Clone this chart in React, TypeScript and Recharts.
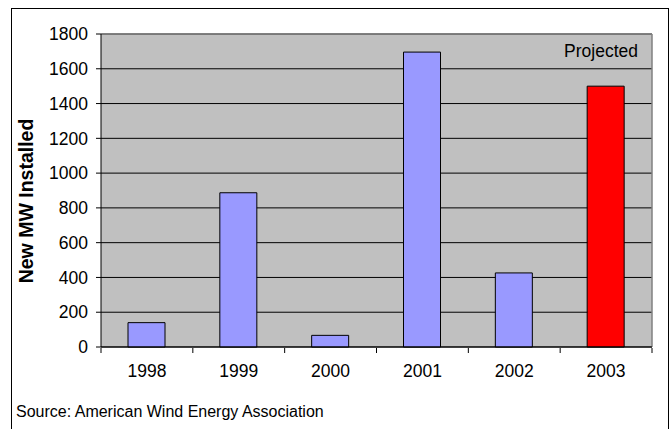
import React from 'react';
import { BarChart, Bar, XAxis, YAxis, CartesianGrid, ReferenceLine, Cell } from 'recharts';

const years = ['1998', '1999', '2000', '2001', '2002', '2003'];
const installed = [140, 887, 67, 1696, 426, 1500];
const projected = [false, false, false, false, false, true];
const yTicks = [0, 200, 400, 600, 800, 1000, 1200, 1400, 1600, 1800];
const edgeTicks = [0, 1, 2, 3, 4, 5, 6];

const data = years.map((year, i) => ({ year, mw: installed[i], pos: i + 0.5 }));

const font = 'Arial, "Liberation Sans", sans-serif';

export default function App() {
  return (
    <div
      style={{
        position: 'absolute',
        left: 0,
        top: 0,
        width: 671,
        height: 429,
        overflow: 'hidden',
        background: '#fff',
        fontFamily: font,
      }}
    >
      <div
        style={{
          position: 'absolute',
          left: 11,
          top: 8,
          width: 658,
          height: 440,
          border: '1px solid #000',
          boxSizing: 'border-box',
        }}
      />
      <BarChart
        width={671}
        height={429}
        data={data}
        margin={{ top: 34, right: 19, left: 0, bottom: 52 }}
        style={{ position: 'absolute', left: 0, top: 0 }}
      >
        <CartesianGrid vertical={false} stroke="#000" fill="#C0C0C0" fillOpacity={1} />
        {/* category labels; height 1 so the edge-tick axis sits right on the baseline */}
        <XAxis
          dataKey="year"
          height={1}
          axisLine={{ stroke: '#000' }}
          tickLine={false}
          tickSize={5}
          tickMargin={13}
          tick={{ fill: '#000', fontSize: 17.5, fontFamily: font }}
        />
        <XAxis
          xAxisId="edges"
          dataKey="pos"
          type="number"
          domain={[0, 6]}
          ticks={edgeTicks}
          interval={0}
          allowDataOverflow
          height={29}
          axisLine={false}
          tick={{ fill: 'none' }}
          tickLine={{ stroke: '#000' }}
          tickSize={5}
          tickFormatter={() => ''}
        />
        <YAxis
          width={101}
          domain={[0, 1800]}
          ticks={yTicks}
          interval={0}
          axisLine={{ stroke: '#000' }}
          tickLine={{ stroke: '#000' }}
          tickSize={5}
          tickMargin={8}
          tick={{ fill: '#000', fontSize: 17.5, fontFamily: font }}
        />
        <ReferenceLine y={1800} stroke="#808080" strokeWidth={1.5} />
        <ReferenceLine xAxisId="edges" x={6} stroke="#808080" strokeWidth={1.5} />
        <Bar dataKey="mw" barSize={37} stroke="#000" strokeWidth={1} isAnimationActive={false}>
          {data.map((d, i) => (
            <Cell key={d.year} fill={projected[i] ? '#FF0000' : '#9999FF'} />
          ))}
        </Bar>
      </BarChart>
      <div
        style={{
          position: 'absolute',
          left: 26,
          top: 201,
          transform: 'translate(-50%, -50%) rotate(-90deg)',
          fontWeight: 'bold',
          fontSize: 19.5,
          whiteSpace: 'nowrap',
          color: '#000',
        }}
      >
        New MW Installed
      </div>
      <div
        style={{
          position: 'absolute',
          right: 33,
          top: 41,
          fontSize: 17.5,
          color: '#000',
        }}
      >
        Projected
      </div>
      <div
        style={{
          position: 'absolute',
          left: 16,
          top: 403,
          fontSize: 16,
          color: '#000',
          whiteSpace: 'nowrap',
        }}
      >
        Source: American Wind Energy Association
      </div>
    </div>
  );
}
